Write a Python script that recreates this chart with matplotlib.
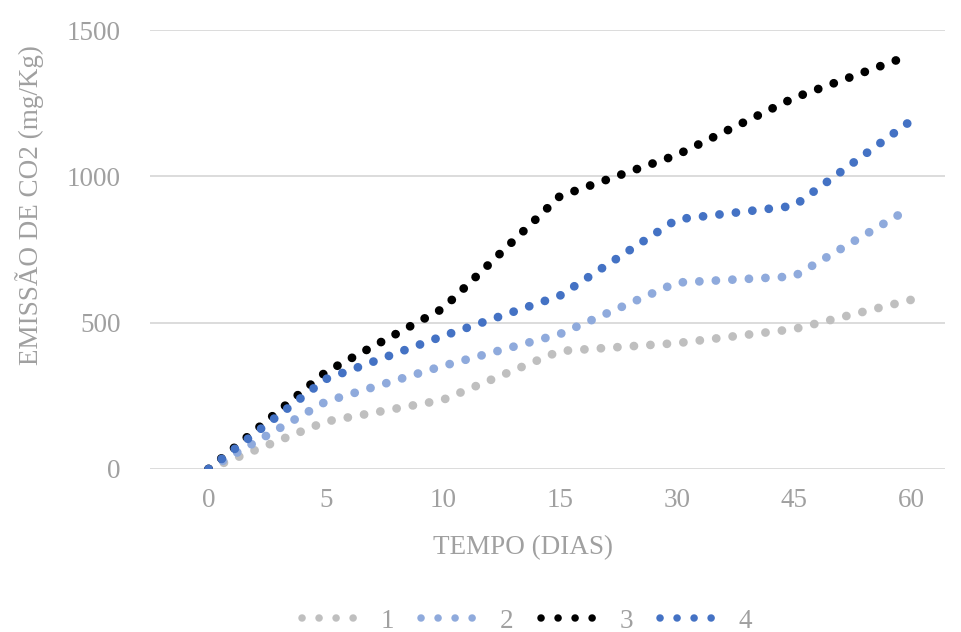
import matplotlib as mpl
mpl.use('Agg')
import matplotlib.pyplot as plt
from matplotlib.lines import Line2D

# dados
dias = ['0', '5', '10', '15', '30', '45', '60']
serie1 = [0, 162, 236, 403, 430, 478, 578]
serie2 = [0, 230, 352, 461, 637, 658, 893]
serie3 = [0, 331, 548, 932, 1073, 1268, 1415]
serie4 = [0, 307, 454, 592, 853, 899, 1190]
nomes = ['1', '2', '3', '4']
cores = ['#BFBFBF', '#8FAADC', '#000000', '#4472C4']

texto = '#A0A0A0'
plt.rcParams['font.family'] = ['Liberation Serif', 'DejaVu Serif']

fig = plt.figure(figsize=(9.62, 6.32), dpi=100)
ax = fig.add_axes([150/962, 163/632, 795/962, 439/632])

lw = 6.3
pontos = (0, (0.01, 1.88))
x = list(range(len(dias)))
for ys, c in zip([serie1, serie2, serie3, serie4], cores):
    ax.plot(x, ys, color=c, lw=lw, linestyle=pontos, dash_capstyle='round', zorder=3)

ax.set_xlim(-0.5, 6.29)
ax.set_ylim(0, 1500)
ax.set_yticks([0, 500, 1000, 1500])
ax.set_xticks(x)
ax.set_xticklabels(dias)
ax.grid(axis='y', color='#D9D9D9', lw=1.3)
ax.set_axisbelow(True)
for s in ax.spines.values():
    s.set_visible(False)
ax.tick_params(length=0, colors=texto, labelsize=19.5)
ax.tick_params(axis='y', pad=21)
ax.tick_params(axis='x', pad=14)

fig.text(30/962, 1 - 205/632, 'EMISSÃO DE CO2 (mg/Kg)', rotation=90,
         ha='center', va='center', color=texto, fontsize=19.5)
fig.text(523/962, 1 - 548/632, 'TEMPO (DIAS)', ha='center', va='center',
         color=texto, fontsize=19.5)

# legenda: 4 pontos por item
handles = [Line2D([0], [0], color=c, lw=5.4, linestyle=(0, (0.01, 2.26)),
                  dash_capstyle='round') for c in cores]
leg = fig.legend(handles, nomes, loc='center', bbox_to_anchor=(527/962, 1 - 621/632),
                 ncol=4, frameon=False, fontsize=19.5, handlelength=2.1,
                 handletextpad=0.8, columnspacing=1.0)
for t in leg.get_texts():
    t.set_color(texto)

fig.savefig('out.png', dpi=100)
